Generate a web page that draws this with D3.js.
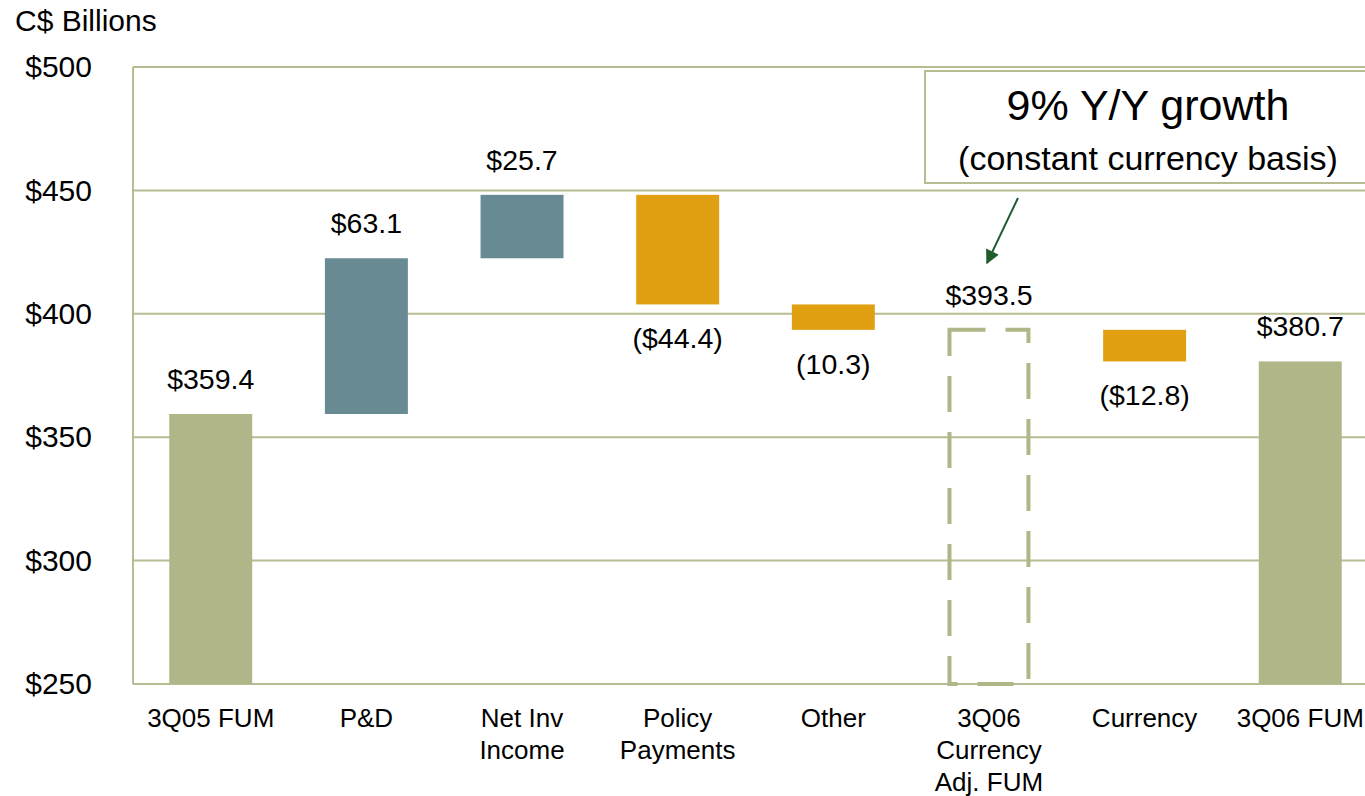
<!DOCTYPE html>
<html>
<head>
<meta charset="utf-8">
<script src="https://cdn.jsdelivr.net/npm/d3@7"></script>
<style>
  body { margin: 0; background: #fff; }
  text { font-family: "Liberation Sans", Arial, sans-serif; fill: #000; }
</style>
</head>
<body>
<svg id="chart" width="1365" height="796"></svg>
<script>
// chart data
var categories = [["3Q05 FUM"], ["P&D"], ["Net Inv", "Income"], ["Policy", "Payments"],
                  ["Other"], ["3Q06", "Currency", "Adj. FUM"], ["Currency"], ["3Q06 FUM"]];
var values = [359.4, 63.1, 25.7, -44.4, -10.3, 393.5, -12.8, 380.7];
var kinds = ["total", "up", "up", "down", "down", "dashed", "down", "total"];
var labels = ["$359.4", "$63.1", "$25.7", "($44.4)", "(10.3)", "$393.5", "($12.8)", "$380.7"];
var yTicks = [250, 300, 350, 400, 450, 500];

window.onload = function()
{
    const MARGIN = {top: 67, left: 133, bottom: 112},
          HEIGHT = 796 - MARGIN.top - MARGIN.bottom,
          WIDTH = 1245;

    var svg = d3.select("#chart");
    var colors = {total: "#b0b688", up: "#678a93", down: "#e0a012", dashed: "#b0b688"};
    var grid = "#b7bc93";

    // build floating segments
    var running = 0, bars = [];
    values.forEach((v, i) => {
        var k = kinds[i], lo, hi;
        if (k == "total" || k == "dashed") { lo = 250; hi = v; running = v; }
        else { lo = running; hi = running + v; running = hi; }
        bars.push({i: i, kind: k, y0: Math.min(lo, hi), y1: Math.max(lo, hi), label: labels[i]});
    });

    var x = d3.scaleBand().domain(d3.range(categories.length))
              .range([MARGIN.left, MARGIN.left + WIDTH]).paddingInner(0.467).paddingOuter(0.233);
    var y = d3.scaleLinear().domain([250, 500]).range([MARGIN.top + HEIGHT, MARGIN.top]);

    // gridlines
    svg.append("g").selectAll("line").data(yTicks).enter().append("line")
        .attr("x1", MARGIN.left).attr("x2", MARGIN.left + WIDTH)
        .attr("y1", d => y(d)).attr("y2", d => y(d))
        .attr("stroke", grid).attr("stroke-width", 2);
    svg.append("line")
        .attr("x1", MARGIN.left).attr("x2", MARGIN.left)
        .attr("y1", y(500)).attr("y2", y(250))
        .attr("stroke", grid).attr("stroke-width", 2);

    // y axis labels
    var yAxis = d3.axisLeft(y).tickValues(yTicks).tickSize(0).tickPadding(41)
                  .tickFormat(d => "$" + d);
    var ag = svg.append("g").attr("transform", "translate(" + MARGIN.left + ",0)").call(yAxis);
    ag.select(".domain").remove();
    ag.selectAll("text").style("font-size", "30px")
      .style("font-family", "'Liberation Sans', Arial, sans-serif");

    svg.append("text").attr("x", 15).attr("y", 31).style("font-size", "30px").text("C$ Billions");

    // bars
    bars.forEach(b => {
        var bx = x(b.i), bw = x.bandwidth();
        if (b.kind == "dashed") {
            svg.append("rect")
                .attr("x", bx + 2).attr("y", y(b.y1))
                .attr("width", bw - 4).attr("height", y(b.y0) - y(b.y1))
                .attr("fill", "none").attr("stroke", colors.dashed)
                .attr("stroke-width", 4).attr("stroke-dasharray", "36,20");
        } else {
            svg.append("rect")
                .attr("x", bx).attr("y", y(b.y1))
                .attr("width", bw).attr("height", y(b.y0) - y(b.y1))
                .attr("fill", colors[b.kind]);
        }
        var below = b.kind == "down";
        svg.append("text")
            .attr("x", bx + bw / 2)
            .attr("y", below ? y(b.y0) + 44 : y(b.y1) - 25)
            .attr("text-anchor", "middle")
            .style("font-size", "28.5px")
            .text(b.label);
    });

    // category labels
    categories.forEach((lines, i) => {
        var t = svg.append("text").attr("text-anchor", "middle").style("font-size", "26px");
        lines.forEach((l, j) => {
            t.append("tspan").attr("x", x(i) + x.bandwidth() / 2)
             .attr("y", 727 + j * 32).text(l);
        });
    });

    // annotation box
    svg.append("rect").attr("x", 925).attr("y", 71).attr("width", 460).attr("height", 112)
        .attr("fill", "#fff").attr("stroke", grid).attr("stroke-width", 2);
    svg.append("text").attr("x", 1148).attr("y", 120).attr("text-anchor", "middle")
        .style("font-size", "43px").text("9% Y/Y growth");
    svg.append("text").attr("x", 1148).attr("y", 170).attr("text-anchor", "middle")
        .style("font-size", "34px").text("(constant currency basis)");

    // arrow
    svg.append("defs").append("marker").attr("id", "arr")
        .attr("viewBox", "0 0 10 10").attr("refX", 9).attr("refY", 5)
        .attr("markerWidth", 16).attr("markerHeight", 14).attr("markerUnits", "userSpaceOnUse")
        .attr("orient", "auto")
        .append("path").attr("d", "M0,0 L10,5 L0,10 z").attr("fill", "#1f5c2e");
    svg.append("line").attr("x1", 1018).attr("y1", 198).attr("x2", 987).attr("y2", 263)
        .attr("stroke", "#1f5c2e").attr("stroke-width", 2).attr("marker-end", "url(#arr)");
};
</script>
</body>
</html>
